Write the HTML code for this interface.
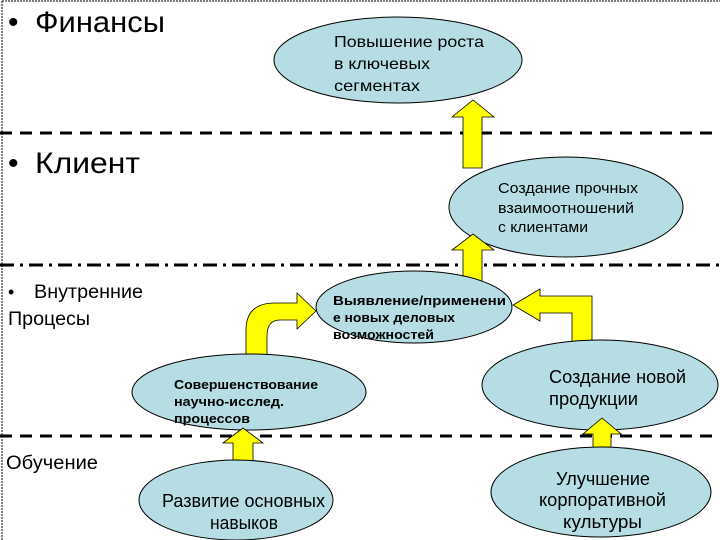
<!DOCTYPE html>
<html><head><meta charset="utf-8"><style>
body{margin:0;background:#fff;}
svg{display:block;font-family:"Liberation Sans",sans-serif;}
</style></head><body>
<svg width="720" height="540" viewBox="0 0 720 540" xmlns="http://www.w3.org/2000/svg">
<rect width="720" height="540" fill="#fff"/>
<line x1="2" y1="1" x2="720" y2="1" stroke="#000" stroke-width="1" stroke-dasharray="2,1"/>
<line x1="2" y1="1" x2="2" y2="540" stroke="#000" stroke-width="1" stroke-dasharray="2,1"/>
<line x1="0" y1="133" x2="720" y2="133" stroke="#000" stroke-width="3" stroke-dasharray="12,8"/>
<line x1="0" y1="265" x2="720" y2="265" stroke="#000" stroke-width="3" stroke-dasharray="14,6,3,6"/>
<line x1="0" y1="436" x2="720" y2="436" stroke="#000" stroke-width="3" stroke-dasharray="12,8"/>

<g fill="#b7dde4" stroke="#000" stroke-width="1">
<ellipse cx="398" cy="60" rx="124" ry="43"/>
</g>
<polygon points="463,168 482,168 482,117 494,117 473,100 452,117 463,117" fill="#ffff00" stroke="#000" stroke-width="0.8"/>
<g fill="#b7dde4" stroke="#000" stroke-width="1">
<ellipse cx="566" cy="207" rx="117" ry="50"/>
</g>
<polygon points="463,290 482,290 482,250 494,250 473,234 452,250 463,250" fill="#ffff00" stroke="#000" stroke-width="0.8"/>
<path d="M246,356 L246,330 Q246,303 275,303 L297,303 L297,293 L316,311 L297,329 L297,320 L280,320 Q267,320 267,336 L267,356 Z" fill="#ffff00" stroke="#000" stroke-width="0.8"/>
<path d="M592,345 L592,296 L540,296 L540,289 L513,305 L540,321 L540,313 L572,313 L572,345 Z" fill="#ffff00" stroke="#000" stroke-width="0.8"/>
<g fill="#b7dde4" stroke="#000" stroke-width="1">
<ellipse cx="414" cy="307" rx="98" ry="36"/>
<ellipse cx="249" cy="392" rx="117" ry="38"/>
<ellipse cx="600" cy="385" rx="118" ry="45"/>
</g>
<polygon points="233,465 253,465 253,443 263,443 243,428 223,443 233,443" fill="#ffff00" stroke="#000" stroke-width="0.8"/>
<polygon points="593,462 611,462 611,434 621,434 602,418 583,434 593,434" fill="#ffff00" stroke="#000" stroke-width="0.8"/>
<g fill="#b7dde4" stroke="#000" stroke-width="1">
<ellipse cx="236" cy="500" rx="97" ry="40"/>
<ellipse cx="601" cy="492" rx="110" ry="45"/>
</g>

<g fill="#000" lengthAdjust="spacingAndGlyphs">
<text x="8" y="32" font-size="30">•</text>
<text x="35" y="32" font-size="30" textLength="130" lengthAdjust="spacingAndGlyphs">Финансы</text>
<text x="8" y="173" font-size="30">•</text>
<text x="35" y="173" font-size="30" textLength="105" lengthAdjust="spacingAndGlyphs">Клиент</text>
<text x="8" y="298" font-size="18">•</text>
<text x="34" y="298" font-size="19" textLength="109" lengthAdjust="spacingAndGlyphs">Внутренние</text>
<text x="8" y="325" font-size="19" textLength="82" lengthAdjust="spacingAndGlyphs">Процесы</text>
<text x="6" y="469" font-size="19" textLength="92" lengthAdjust="spacingAndGlyphs">Обучение</text>
<g font-size="16">
<text x="334" y="47" textLength="150" lengthAdjust="spacingAndGlyphs">Повышение роста</text>
<text x="334" y="69" textLength="96" lengthAdjust="spacingAndGlyphs">в ключевых</text>
<text x="334" y="91" textLength="86" lengthAdjust="spacingAndGlyphs">сегментах</text>
</g>
<g font-size="15">
<text x="498" y="193" textLength="140" lengthAdjust="spacingAndGlyphs">Создание прочных</text>
<text x="498" y="213" textLength="136" lengthAdjust="spacingAndGlyphs">взаимоотношений</text>
<text x="498" y="232" textLength="90" lengthAdjust="spacingAndGlyphs">с клиентами</text>
</g>
<g font-size="13" font-weight="bold">
<text x="333" y="305" textLength="173" lengthAdjust="spacingAndGlyphs">Выявление/применени</text>
<text x="333" y="322" textLength="122" lengthAdjust="spacingAndGlyphs">е новых деловых</text>
<text x="333" y="339" textLength="101" lengthAdjust="spacingAndGlyphs">возможностей</text>
<text x="174" y="389" textLength="144" lengthAdjust="spacingAndGlyphs">Совершенствование</text>
<text x="174" y="406" textLength="110" lengthAdjust="spacingAndGlyphs">научно-исслед.</text>
<text x="174" y="423" textLength="76" lengthAdjust="spacingAndGlyphs">процессов</text>
</g>
<g font-size="18">
<text x="549" y="383" textLength="137" lengthAdjust="spacingAndGlyphs">Создание новой</text>
<text x="549" y="405" textLength="89" lengthAdjust="spacingAndGlyphs">продукции</text>
<text x="162" y="507" textLength="163" lengthAdjust="spacingAndGlyphs">Развитие основных</text>
<text x="210" y="529" textLength="68" lengthAdjust="spacingAndGlyphs">навыков</text>
<text x="556" y="485" textLength="94" lengthAdjust="spacingAndGlyphs">Улучшение</text>
<text x="539" y="506" textLength="127" lengthAdjust="spacingAndGlyphs">корпоративной</text>
<text x="563" y="528" textLength="79" lengthAdjust="spacingAndGlyphs">культуры</text>
</g>
</g>
</svg>
</body></html>
